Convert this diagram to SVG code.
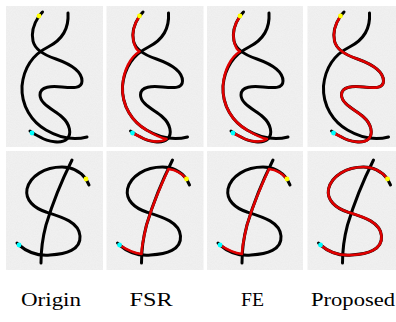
<svg xmlns="http://www.w3.org/2000/svg" xmlns:xlink="http://www.w3.org/1999/xlink" width="396" height="322" viewBox="0 0 396 322">
<style>
.bg{fill:#f0f0f0}
.k{fill:none;stroke:#000;stroke-width:3;stroke-linecap:round;stroke-linejoin:round}
.r{fill:none;stroke:#e00000;stroke-width:2.6;stroke-linecap:round;stroke-linejoin:round}
.y{fill:#ffff00}
.c{fill:#00ffff}
.lbl{font-family:"Liberation Serif","DejaVu Serif",serif;font-size:18px;fill:#000;text-anchor:middle}
</style>
<defs>
<filter id="nz" x="0" y="0" width="100%" height="100%">
<feTurbulence type="fractalNoise" baseFrequency="0.85" numOctaves="2" seed="7" result="t"/>
<feColorMatrix in="t" type="matrix" values="0 0 0 0 0.6 0 0 0 0 0.6 0 0 0 0 0.6 0.3 0 0 0 -0.12" result="n"/>
<feComposite in="n" in2="SourceGraphic" operator="in" result="n2"/>
<feMerge><feMergeNode in="SourceGraphic"/><feMergeNode in="n2"/></feMerge>
</filter>
<path id="topA" d="M42.5,12 L39,16 C35,22 31,32 33,41 C35,50 44,55 56,59 C70,64 82,71 82,81 C82,89 72,88 62,87 C52,86 40,86 40,95 C40,104 54,110 62,117 C70,124 72,134 67,139 C62,144 48,142 40,137 C36,135 32,133 30,131"/>
<path id="topB" d="M68,13 C69,28 62,40 48,47 C34,54 24,66 22,86 C21,106 32,122 46,130 C58,137 72,141 87,137"/>
<path id="topRedA" d="M39,16 C35,22 31,32 33,41 C35,50 44,55 56,59 C70,64 82,71 82,81 C82,89 72,88 62,87 C52,86 40,86 40,95 C40,104 54,110 62,117 C70,124 72,134 67,139 C62,144 48,142 40,137 C36,135 33,133.5 32,133"/>
<path id="topRedX" d="M39,16 C35,22 31,32 33,41 C34,46 36,50 39,51.5 C30,57 23,70 22,86 C21,106 32,122 46,130 C54,135 61,138 66,139 C60,143 48,142 40,137 C36,135 33,133.5 32,133"/>
<path id="botV" d="M72,160 C62,180 52,205 46,225 C42,240 41,252 41,263"/>
<path id="botS" d="M89,185 L86,179 C80,171 72,167 62,167 C45,167 30,176 27,189 C25,200 34,208 46,212 C62,217 79,222 80,236 C81,250 66,254 50,255 C38,256 27,252 19,245 L17,243"/>
<path id="botRedS" d="M86,179 C80,171 72,167 62,167 C45,167 30,176 27,189 C25,200 34,208 46,212 C62,217 79,222 80,236 C81,250 66,254 50,255 C38,256 27,252 19,245"/>
<path id="botRedX" d="M86,179 C82,174 76,170 68,169 C60,186 52,205 46,225 C43,238 41,248 41,254 C33,253 25,249 19,245"/>
</defs>

<g id="backgrounds" filter="url(#nz)">
<rect class="bg" x="6" y="6" width="97" height="141"/>
<rect class="bg" x="106.5" y="6" width="97" height="141"/>
<rect class="bg" x="207" y="6" width="96" height="141"/>
<rect class="bg" x="307.5" y="6" width="88.5" height="141"/>
<rect class="bg" x="6" y="151" width="97" height="119"/>
<rect class="bg" x="106.5" y="151" width="97" height="119"/>
<rect class="bg" x="207" y="151" width="96" height="119"/>
<rect class="bg" x="307.5" y="151" width="88.5" height="119"/>
</g>

<g id="origin-top">
<use xlink:href="#topB" class="k"/>
<use xlink:href="#topA" class="k"/>
<circle class="y" cx="39" cy="16" r="2.4"/>
<circle class="c" cx="32" cy="133" r="2.4"/>
</g>
<g id="fsr-top" transform="translate(100.5,0)">
<use xlink:href="#topB" class="k"/>
<use xlink:href="#topA" class="k"/>
<use xlink:href="#topRedX" class="r"/>
<circle class="y" cx="39" cy="16" r="2.4"/>
<circle class="c" cx="32" cy="133" r="2.4"/>
</g>
<g id="fe-top" transform="translate(201,0)">
<use xlink:href="#topB" class="k"/>
<use xlink:href="#topA" class="k"/>
<use xlink:href="#topRedX" class="r"/>
<circle class="y" cx="39" cy="16" r="2.4"/>
<circle class="c" cx="32" cy="133" r="2.4"/>
</g>
<g id="proposed-top" transform="translate(301.5,0)">
<use xlink:href="#topB" class="k"/>
<use xlink:href="#topA" class="k"/>
<use xlink:href="#topRedA" class="r"/>
<circle class="y" cx="39" cy="16" r="2.4"/>
<circle class="c" cx="32" cy="133" r="2.4"/>
</g>

<g id="origin-bottom">
<use xlink:href="#botS" class="k"/>
<use xlink:href="#botV" class="k"/>
<circle class="y" cx="86" cy="179" r="2.4"/>
<circle class="c" cx="19" cy="245" r="2.4"/>
</g>
<g id="fsr-bottom" transform="translate(100.5,0)">
<use xlink:href="#botS" class="k"/>
<use xlink:href="#botV" class="k"/>
<use xlink:href="#botRedX" class="r"/>
<circle class="y" cx="86" cy="179" r="2.4"/>
<circle class="c" cx="19" cy="245" r="2.4"/>
</g>
<g id="fe-bottom" transform="translate(201,0)">
<use xlink:href="#botS" class="k"/>
<use xlink:href="#botV" class="k"/>
<use xlink:href="#botRedX" class="r"/>
<circle class="y" cx="86" cy="179" r="2.4"/>
<circle class="c" cx="19" cy="245" r="2.4"/>
</g>
<g id="proposed-bottom" transform="translate(301.5,0)">
<use xlink:href="#botV" class="k"/>
<use xlink:href="#botS" class="k"/>
<use xlink:href="#botRedS" class="r"/>
<circle class="y" cx="86" cy="179" r="2.4"/>
<circle class="c" cx="19" cy="245" r="2.4"/>
</g>

<g id="labels">
<text class="lbl" x="51" y="306" textLength="60" lengthAdjust="spacingAndGlyphs">Origin</text>
<text class="lbl" x="151" y="306" textLength="43" lengthAdjust="spacingAndGlyphs">FSR</text>
<text class="lbl" x="252.5" y="306" textLength="23" lengthAdjust="spacingAndGlyphs">FE</text>
<text class="lbl" x="353" y="306" textLength="84" lengthAdjust="spacingAndGlyphs">Proposed</text>
</g>
</svg>
